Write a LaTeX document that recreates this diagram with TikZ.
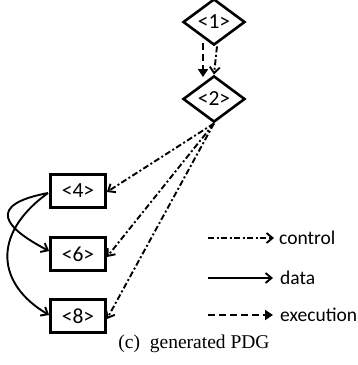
\documentclass[tikz,border=0pt]{standalone}
\usepackage{fontspec}
\setmainfont{Liberation Serif}
\newfontfamily\labfont{Carlito}
\usetikzlibrary{shapes.geometric,arrows.meta}
\tikzset{
  dia/.style={diamond,draw,line width=2.6pt,minimum width=62pt,minimum height=39pt,inner sep=0pt,font=\labfont\fontsize{21.5}{23}\selectfont},
  stmt/.style={rectangle,draw,line width=2.8pt,minimum width=55pt,minimum height=33pt,inner sep=0pt,font=\labfont\fontsize{21.5}{23}\selectfont},
  ctrl/.style={line width=1.9pt,dash pattern=on 6pt off 2.5pt on 2pt off 2.5pt,-{Straight Barb[length=6pt,width=10pt,line width=1.9pt]}},
  dat/.style={line width=1.9pt,-{Straight Barb[length=6pt,width=10pt,line width=1.9pt]}},
  exe/.style={line width=2.2pt,dash pattern=on 7pt off 4pt,-{Triangle[length=8pt,width=10pt]}},
  leg/.style={anchor=west,inner sep=0pt,font=\labfont\fontsize{19.5}{22}\selectfont},
}
\begin{document}
\begin{tikzpicture}[x=1pt,y=-1pt]
\useasboundingbox (0,0) rectangle (358,365);
\node[dia] (n1) at (214,22) {<1>};
\node[dia] (n2) at (214,99) {<2>};
\node[stmt] (n4) at (78,191) {<4>};
\node[stmt] (n6) at (78,254) {<6>};
\node[stmt] (n8) at (78,316) {<8>};
% execution and control between 1 and 2
\coordinate (e1) at (203,43);
\coordinate (e2) at (203,77);
\draw[exe] (e1) -- (e2);
\draw[ctrl] (n1.south) ++(3,0) coordinate (c1s) -- (n2.north);
% control edges
\draw[ctrl] (n2.south) -- ([yshift=-1pt]n4.east);
\draw[ctrl] (n2.south) -- ([yshift=-3pt]n6.east);
\draw[ctrl] (n2.south) -- ([yshift=-3pt]n8.east);
% data edges
\coordinate (d0) at (48,193);
\draw[dat] (d0) .. controls (-15,205) and (5,228) .. ([yshift=3pt]n6.west);
\draw[dat] (d0) .. controls (-10,235) and (-2,285) .. ([yshift=1pt]n8.west);
% legend
\node[leg] (lc) at (279,238) {control};
\node[leg] (ld) at (280,278) {data};
\node[leg] (le) at (280,315) {execution};
\coordinate (lc0) at (208,238);
\coordinate (ld0) at (208,278);
\coordinate (le0) at (208,315);
\draw[ctrl] (lc0) -- ([xshift=-5pt]lc.west);
\draw[dat] (ld0) -- ([xshift=-7pt]ld.west);
\draw[exe] (le0) -- ([xshift=-7pt]le.west);
% caption
\node[font=\fontsize{19.5}{22}\selectfont] (cap) at (194,344) {(c)\hspace{0.5em}generated PDG};
\end{tikzpicture}
\end{document}
